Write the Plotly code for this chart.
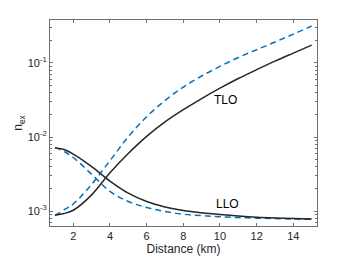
import plotly.graph_objects as go
import numpy as np

distance = [1, 1.5, 2, 3, 4, 5, 6, 7, 8, 9, 10, 11, 12, 13, 14, 15]
tlo_solid = [8.8e-4, 9.3e-4, 1.03e-3, 1.66e-3, 3.3e-3, 6.0e-3, 0.0102, 0.016, 0.0234, 0.0331,
             0.0457, 0.0617, 0.0813, 0.106, 0.136, 0.174]
tlo_dashed = [8.8e-4, 1.04e-3, 1.25e-3, 2.3e-3, 4.8e-3, 0.0101, 0.0188, 0.0312, 0.0472, 0.0667,
              0.090, 0.1186, 0.151, 0.192, 0.245, 0.315]
llo_solid = [7.2e-3, 6.8e-3, 5.9e-3, 4.0e-3, 2.55e-3, 1.75e-3, 1.35e-3, 1.14e-3, 1.02e-3, 0.95e-3,
             0.9e-3, 0.86e-3, 0.83e-3, 0.81e-3, 0.795e-3, 0.785e-3]
llo_dashed = [7.2e-3, 6.4e-3, 5.3e-3, 3.15e-3, 1.85e-3, 1.35e-3, 1.12e-3, 0.99e-3, 0.91e-3, 0.87e-3,
              0.84e-3, 0.82e-3, 0.805e-3, 0.795e-3, 0.785e-3, 0.775e-3]

x_ticks = [2, 4, 6, 8, 10, 12, 14]
y_ticks = [1e-3, 1e-2, 1e-1]
y_ticktext = ["10<sup>-3</sup>", "10<sup>-2</sup>", "10<sup>-1</sup>"]
y_minor = [m * 10.0 ** e for e in (-4, -3, -2, -1) for m in range(2, 10)]

black = "#262626"
blue = "#0072BD"

fig = go.Figure()
for y, color, dash in [(tlo_dashed, blue, "6px,4px"), (llo_dashed, blue, "6px,4px"),
                       (llo_solid, black, "solid"), (tlo_solid, black, "solid")]:
    fig.add_trace(go.Scatter(x=distance, y=y, mode="lines",
                             line=dict(color=color, width=1.5, dash=dash, shape="spline", smoothing=1.0),
                             showlegend=False))

fig.add_annotation(x=10.3, y=np.log10(0.032), text="TLO", showarrow=False,
                   font=dict(size=12, color="black"))
fig.add_annotation(x=10.4, y=np.log10(1.25e-3), text="LLO", showarrow=False,
                   font=dict(size=12, color="black"))

axis_color = "#707070"
# the page body has an 8px margin; margins are reduced to compensate
fig.update_layout(
    width=342, height=255,
    margin=dict(l=42, r=33, t=12, b=37),
    paper_bgcolor="white", plot_bgcolor="white",
    font=dict(family="Liberation Sans, Arial, sans-serif", size=11, color="#262626"),
    xaxis=dict(range=[0.73, 15.29], tickvals=x_ticks, ticks="inside", ticklen=3,
               showline=True, linecolor=axis_color, linewidth=1, mirror="ticks",
               tickcolor=axis_color, showgrid=False, zeroline=False, automargin=False,
               title=dict(text="Distance (km)", standoff=2, font=dict(size=12))),
    yaxis=dict(type="log", range=[-3.2, -0.42], tickvals=y_ticks, ticktext=y_ticktext,
               ticks="inside", ticklen=3, showline=True, linecolor=axis_color, linewidth=1,
               mirror="ticks", tickcolor=axis_color, showgrid=False, zeroline=False,
               automargin=False,
               minor=dict(tickvals=y_minor, ticks="inside", ticklen=2, tickcolor=axis_color),
               title=dict(text="n<sub>ex</sub>", standoff=2, font=dict(size=12))),
)

fig.write_html("out.html")
